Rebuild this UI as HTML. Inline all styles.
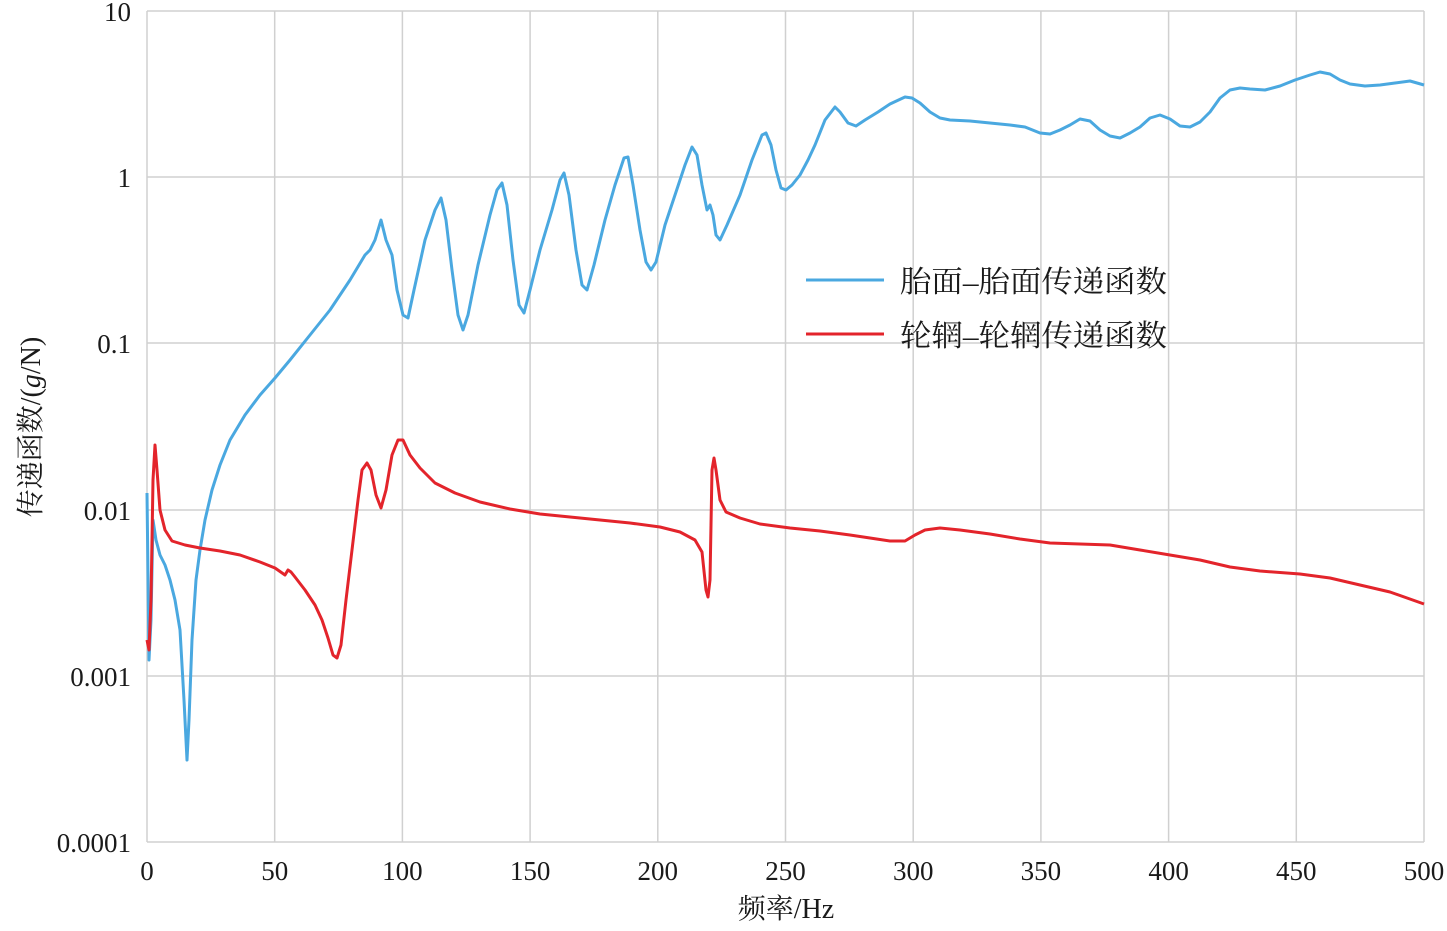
<!DOCTYPE html>
<html><head><meta charset="utf-8"><style>
body{margin:0;background:#fff}
svg text{font-family:"Liberation Serif","Noto Serif CJK SC",serif;fill:#1a1a1a}
</style></head><body>
<svg width="1447" height="926" xmlns="http://www.w3.org/2000/svg">
<g stroke="#d0d0d0" stroke-width="1.5" fill="none">
<line x1="147" y1="11" x2="1424" y2="11"/><line x1="147" y1="177" x2="1424" y2="177"/><line x1="147" y1="343" x2="1424" y2="343"/><line x1="147" y1="510" x2="1424" y2="510"/><line x1="147" y1="676" x2="1424" y2="676"/><line x1="147" y1="842" x2="1424" y2="842"/>
<line x1="147" y1="11" x2="147" y2="842"/><line x1="274.7" y1="11" x2="274.7" y2="842"/><line x1="402.4" y1="11" x2="402.4" y2="842"/><line x1="530.1" y1="11" x2="530.1" y2="842"/><line x1="657.8" y1="11" x2="657.8" y2="842"/><line x1="785.5" y1="11" x2="785.5" y2="842"/><line x1="913.2" y1="11" x2="913.2" y2="842"/><line x1="1040.9" y1="11" x2="1040.9" y2="842"/><line x1="1168.6" y1="11" x2="1168.6" y2="842"/><line x1="1296.3" y1="11" x2="1296.3" y2="842"/><line x1="1424" y1="11" x2="1424" y2="842"/>
</g>
<g font-size="27" text-anchor="end">
<text x="131" y="21">10</text><text x="131" y="187">1</text><text x="131" y="353">0.1</text><text x="131" y="520">0.01</text><text x="131" y="686">0.001</text><text x="131" y="852">0.0001</text>
</g>
<g font-size="27" text-anchor="middle">
<text x="147" y="880">0</text><text x="274.7" y="880">50</text><text x="402.4" y="880">100</text><text x="530.1" y="880">150</text><text x="657.8" y="880">200</text><text x="785.5" y="880">250</text><text x="913.2" y="880">300</text><text x="1040.9" y="880">350</text><text x="1168.6" y="880">400</text><text x="1296.3" y="880">450</text><text x="1424" y="880">500</text>
</g>
<text x="786" y="918" font-size="28" text-anchor="middle">频率/Hz</text>
<text transform="translate(40,427) rotate(-90)" font-size="28" text-anchor="middle">传递函数/(<tspan font-style="italic">g</tspan>/N)</text>
<polyline fill="none" stroke="#4aa8e0" stroke-width="3" stroke-linejoin="round" points="147,493 149,660 151,620 153,520 156,540 160,555 165,565 170,580 175,600 180,630 184,700 187,760 189,720 192,640 196,580 200,550 205,520 212,490 220,465 230,440 245,415 260,395 275,378 290,360 310,335 330,310 350,280 365,255 370,250 375,240 381,220 386,240 392,255 397,290 403,315 408,318 414,290 425,240 435,210 441,198 446,220 452,270 458,315 463,330 468,315 478,265 490,215 497,190 502,183 507,205 513,260 519,305 524,313 530,290 540,250 552,210 560,180 564,173 569,195 576,250 582,285 587,290 594,265 605,220 615,185 624,158 628,157 633,185 640,230 646,262 651,270 656,262 665,225 675,195 685,165 692,147 697,155 702,185 707,210 710,205 713,215 716,235 720,240 727,225 740,195 752,160 762,135 766,133 771,145 776,170 781,188 786,190 792,185 800,175 808,160 815,145 825,120 835,107 840,112 848,123 856,126 865,120 878,112 890,104 905,97 912,98 920,103 930,112 940,118 950,120 970,121 990,123 1010,125 1025,127 1040,133 1050,134 1060,130 1070,125 1080,119 1090,121 1100,130 1110,136 1120,138 1130,133 1140,127 1150,118 1160,115 1170,119 1180,126 1190,127 1200,122 1210,112 1220,98 1230,90 1240,88 1250,89 1265,90 1280,86 1295,80 1310,75 1320,72 1330,74 1340,80 1350,84 1365,86 1380,85 1395,83 1410,81 1424,85"/>
<polyline fill="none" stroke="#e3242b" stroke-width="3" stroke-linejoin="round" points="147,640 149,650 151,600 153,480 155,445 157,470 160,510 165,530 172,541 185,545 200,548 220,551 240,555 260,562 275,568 285,575 288,570 291,572 295,577 305,590 315,605 322,620 328,638 333,655 337,658 341,645 346,600 352,550 358,500 362,470 367,463 371,470 376,495 381,508 386,490 392,455 398,440 403,440 410,455 420,468 435,483 455,493 480,502 510,509 540,514 570,517 600,520 630,523 660,527 680,532 695,540 702,552 706,590 708,597 710,580 712,470 714,458 716,470 720,500 726,512 740,518 760,524 790,528 820,531 850,535 870,538 890,541 905,541 915,535 925,530 940,528 960,530 990,534 1020,539 1050,543 1080,544 1110,545 1140,550 1170,555 1200,560 1230,567 1260,571 1300,574 1330,578 1360,585 1390,592 1424,604"/>
<line x1="806" y1="280" x2="884" y2="280" stroke="#4aa8e0" stroke-width="3"/>
<line x1="806" y1="334" x2="884" y2="334" stroke="#e3242b" stroke-width="3"/>
<text x="900" y="292" font-size="30" textLength="267" lengthAdjust="spacingAndGlyphs">胎面–胎面传递函数</text>
<text x="900" y="346" font-size="30" textLength="267" lengthAdjust="spacingAndGlyphs">轮辋–轮辋传递函数</text>
</svg>
</body></html>
